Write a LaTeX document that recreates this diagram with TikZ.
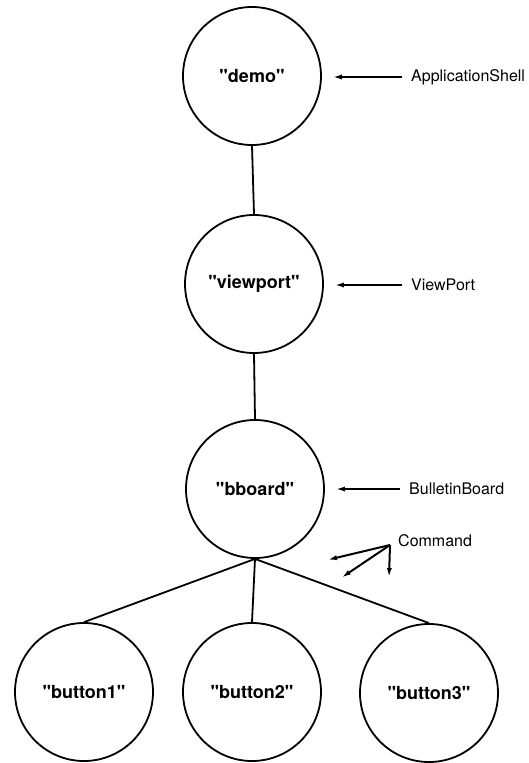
\documentclass[tikz,border=0pt]{standalone}
\usepackage{fontspec}
\newfontfamily\helv{TeX Gyre Heros}
\usetikzlibrary{arrows.meta}
\tikzset{
  widget/.style={draw, circle, line width=1.8pt, minimum size=138pt, inner sep=0pt,
                 font=\helv\fontsize{18}{20}\selectfont\bfseries},
  classname/.style={anchor=west, inner sep=0pt, font=\helv\fontsize{16}{18}\selectfont},
  link/.style={line width=1.8pt},
  pointer/.style={line width=2pt, -{Latex[length=10pt,width=5pt]}},
}
\begin{document}
\begin{tikzpicture}[x=1pt,y=-1pt]
  \useasboundingbox (0,0) rectangle (529,763);

  % widget tree
  \node[widget] (demo)     at (252,76)  {"demo"};
  \node[widget] (viewport) at (254,284) {"viewport"};
  \node[widget] (bboard)   at (255,489) {"bboard"};
  \node[widget] (button1)  at (84,692)  {"button1"};
  \node[widget] (button2)  at (252,692) {"button2"};
  \node[widget] (button3)  at (429,693) {"button3"};

  \draw[link] (demo.south) -- (viewport.north);
  \draw[link] (viewport.south) -- (bboard.north);
  \draw[link] (bboard.south) -- (button1.north);
  \draw[link] (bboard.south) -- (button2.north);
  \draw[link] (bboard.south) -- (button3.north);

  % widget classes
  \node[classname] (shell) at (411,77)  {ApplicationShell};
  \node[classname] (vp)    at (411,285) {ViewPort};
  \node[classname] (bb)    at (409,489) {BulletinBoard};
  \node[classname] (cmd)   at (398,541) {Command};

  \draw[pointer, shorten <=9pt, shorten >=10pt] (shell.west) -- (shell.west -| demo.east);
  \draw[pointer, shorten <=9pt, shorten >=10pt] (vp.west) -- (vp.west -| viewport.east);
  \draw[pointer, shorten <=9pt, shorten >=10pt] (bb.west) -- (bb.west -| bboard.east);

  % fan of arrows towards the three buttons
  \coordinate (fan) at (390,545);
  \coordinate (fanA) at (327,560);
  \coordinate (fanB) at (341,578);
  \coordinate (fanC) at (389,578);
  \draw[pointer] (fan) -- (fanA);
  \draw[pointer] (fan) -- (fanB);
  \draw[pointer] (fan) -- (fanC);
\end{tikzpicture}
\end{document}
